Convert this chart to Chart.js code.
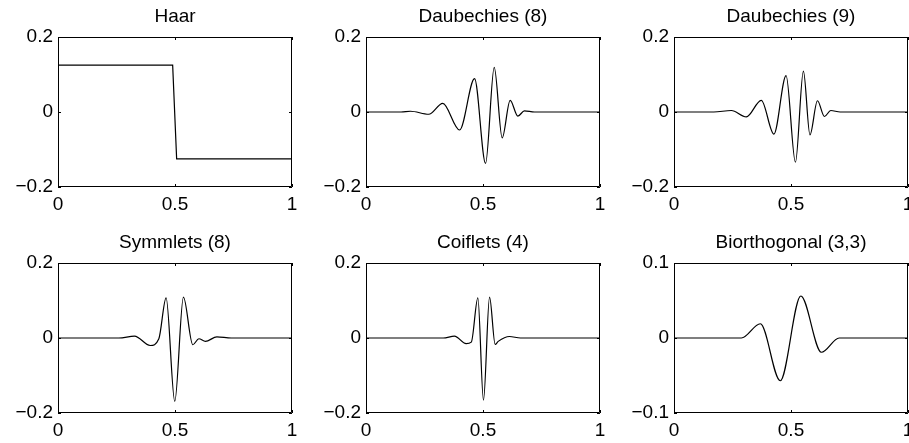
<!DOCTYPE html>
<html>
<head>
<meta charset="utf-8">
<script src="https://cdn.jsdelivr.net/npm/chart.js@4/dist/chart.umd.min.js"></script>
<style>
    html, body { margin: 0; padding: 0; background: #fff; overflow: hidden; width: 909px; height: 443px; }
    .panel { position: absolute; }
</style>
</head>
<body>
<div class="panel" id="p0"><canvas id="c0" width="334" height="220"></canvas></div>
<div class="panel" id="p1"><canvas id="c1" width="334" height="220"></canvas></div>
<div class="panel" id="p2"><canvas id="c2" width="334" height="220"></canvas></div>
<div class="panel" id="p3"><canvas id="c3" width="334" height="220"></canvas></div>
<div class="panel" id="p4"><canvas id="c4" width="334" height="220"></canvas></div>
<div class="panel" id="p5"><canvas id="c5" width="334" height="220"></canvas></div>
<script>
// Values
const titles = ['Haar', 'Daubechies (8)', 'Daubechies (9)', 'Symmlets (8)', 'Coiflets (4)', 'Biorthogonal (3,3)'];

const haarX = [0, 0.49, 0.507, 1];
const haarY = [0.125, 0.125, -0.125, -0.125];

const db8X = [0, 0.15, 0.19, 0.268, 0.328, 0.400, 0.464, 0.511, 0.548, 0.582, 0.616, 0.649, 0.677, 0.72, 1];
const db8Y = [0, 0, 0.002, -0.006, 0.023, -0.048, 0.089, -0.137, 0.119, -0.069, 0.031, -0.011, 0.003, 0, 0];

const db9X = [0, 0.17, 0.245, 0.309, 0.373, 0.427, 0.479, 0.519, 0.553, 0.581, 0.613, 0.643, 0.670, 0.71, 1];
const db9Y = [0, 0, 0.004, -0.013, 0.031, -0.059, 0.097, -0.134, 0.109, -0.061, 0.030, -0.012, 0.004, 0, 0];

const symX = [0, 0.26, 0.327, 0.394, 0.431, 0.462, 0.499, 0.536, 0.576, 0.602, 0.630, 0.679, 0.74, 1];
const symY = [0, 0, 0.005, -0.020, -0.002, 0.107, -0.169, 0.109, -0.018, -0.002, -0.009, 0.003, 0, 0];

const coifX = [0, 0.33, 0.378, 0.428, 0.45, 0.478, 0.502, 0.528, 0.552, 0.565, 0.613, 0.66, 1];
const coifY = [0, 0, 0.005, -0.015, -0.011, 0.107, -0.166, 0.109, -0.017, -0.009, 0.004, 0, 0];

const biorX = [0, 0.288, 0.369, 0.454, 0.542, 0.630, 0.706, 1];
const biorY = [0, 0, 0.019, -0.057, 0.056, -0.019, 0, 0];

const xTicks = [0, 0.5, 1];
const yRanges = [0.2, 0.2, 0.2, 0.2, 0.2, 0.1];

const seriesX = [haarX, db8X, db9X, symX, coifX, biorX];
const seriesY = [haarY, db8Y, db9Y, symY, coifY, biorY];

// panel placement (plot box left/top)
const colLeft = [58, 366, 674];
const rowTop = [37, 263];

Chart.defaults.font.family = '"Liberation Sans", Arial, Helvetica, sans-serif';
Chart.defaults.font.size = 19;
Chart.defaults.color = '#000';

function fmt(v) {
    const r = Math.round(v * 10) / 10;
    if (r === 0) return '0';
    return String(r).replace('-', '\u2212');
}

// box around plot area with inward tick marks (matlab style)
const boxPlugin = {
    id: 'box',
    afterDatasetsDraw(chart) {
        const { ctx, chartArea: a, scales } = chart;
        ctx.save();
        ctx.strokeStyle = '#000';
        ctx.lineWidth = 1;
        ctx.beginPath();
        ctx.rect(a.left + 0.5, a.top + 0.5, a.right - a.left - 1, a.bottom - a.top - 1);
        scales.x.ticks.forEach(t => {
            const px = Math.round(scales.x.getPixelForValue(t.value)) + 0.5;
            ctx.moveTo(px, a.bottom); ctx.lineTo(px, a.bottom - 3);
            ctx.moveTo(px, a.top); ctx.lineTo(px, a.top + 3);
        });
        scales.y.ticks.forEach(t => {
            const py = Math.round(scales.y.getPixelForValue(t.value)) + 0.5;
            ctx.moveTo(a.left, py); ctx.lineTo(a.left + 3, py);
            ctx.moveTo(a.right, py); ctx.lineTo(a.right - 3, py);
        });
        ctx.stroke();
        ctx.restore();
    }
};

titles.forEach((title, i) => {
    const wrap = document.getElementById('p' + i);
    wrap.style.left = (colLeft[i % 3] - 50) + 'px';
    wrap.style.top = (rowTop[Math.floor(i / 3)] - 37) + 'px';

    const xs = seriesX[i];
    const ys = seriesY[i];
    const points = xs.map((x, k) => ({ x: x, y: ys[k] }));
    const r = yRanges[i];

    const ctx = document.getElementById('c' + i).getContext('2d');
    new Chart(ctx, {
        type: 'line',
        data: {
            datasets: [{
                data: points,
                borderColor: '#000',
                borderWidth: 1.2,
                pointRadius: 0,
                fill: false,
                cubicInterpolationMode: i === 0 ? 'default' : 'monotone',
                tension: 0
            }]
        },
        options: {
            responsive: false,
            animation: false,
            devicePixelRatio: 1,
            layout: { padding: 0 },
            plugins: {
                legend: { display: false },
                tooltip: { enabled: false },
                title: {
                    display: true,
                    text: title,
                    font: { size: 19, weight: 'normal' },
                    padding: { top: 5, bottom: 9.2 }
                }
            },
            scales: {
                x: {
                    type: 'linear',
                    min: 0,
                    max: 1,
                    afterBuildTicks: s => { s.ticks = xTicks.map(v => ({ value: v })); },
                    afterFit: s => { s.height = 33; },
                    grid: { display: false, drawTicks: false },
                    border: { display: false },
                    ticks: { padding: 6, maxRotation: 0, autoSkip: false, callback: v => fmt(v) }
                },
                y: {
                    type: 'linear',
                    min: -r,
                    max: r,
                    afterBuildTicks: s => { s.ticks = [-r, 0, r].map(v => ({ value: v })); },
                    afterFit: s => { s.width = 50; },
                    grid: { display: false, drawTicks: false },
                    border: { display: false },
                    ticks: { padding: 5, autoSkip: false, callback: v => fmt(v) }
                },
                // empty right axis so the title sits centred over the plot box
                yRight: {
                    type: 'linear',
                    position: 'right',
                    min: -r,
                    max: r,
                    afterFit: s => { s.width = 50; },
                    grid: { display: false, drawTicks: false },
                    border: { display: false },
                    ticks: { display: false }
                }
            }
        },
        plugins: [boxPlugin]
    });
});
</script>
</body>
</html>
